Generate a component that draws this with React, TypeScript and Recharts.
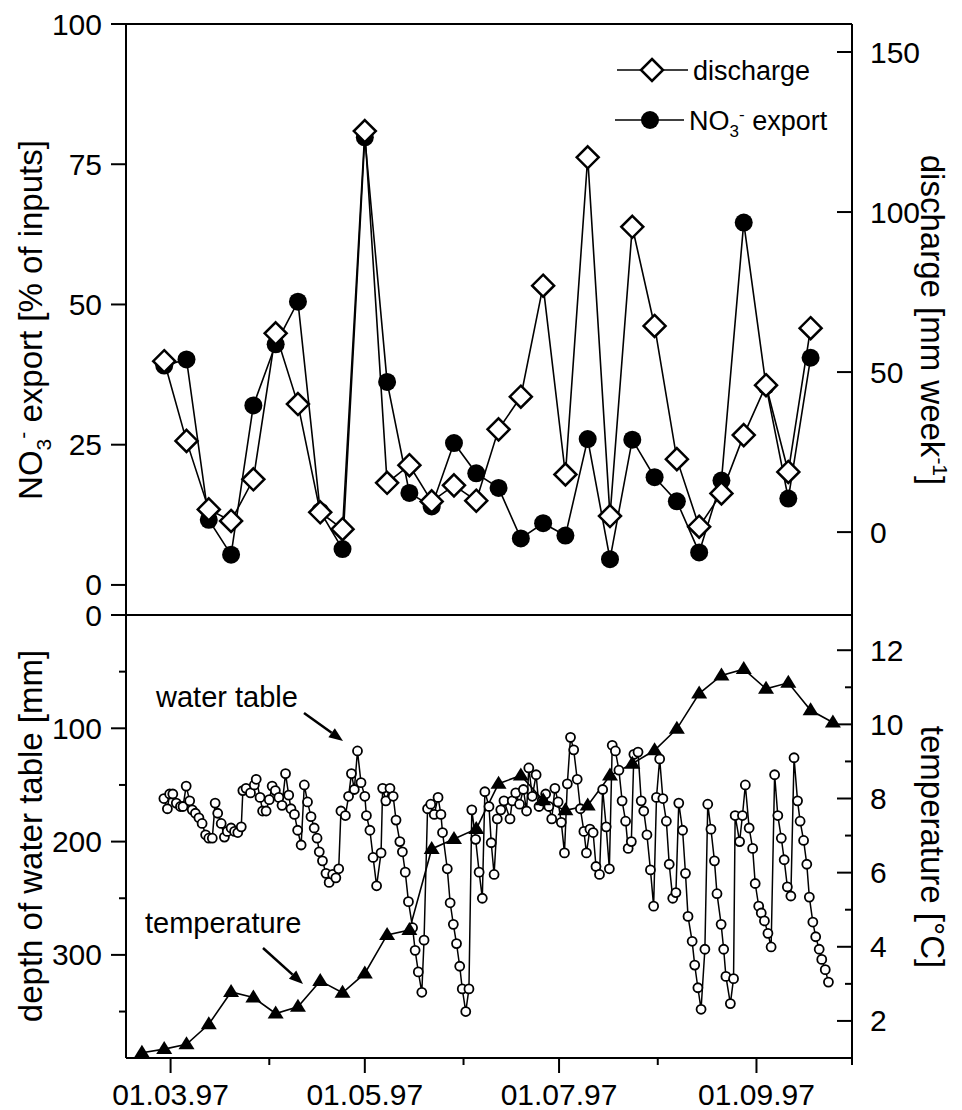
import React from "react";
import { LineChart, Line, XAxis, YAxis } from "recharts";

// dates are day of year 1997 (1 Jan = 0)
const weekDays = [57, 64, 71, 78, 85, 92, 99, 106, 113, 120, 127, 134, 141, 148, 155, 162, 169, 176, 183, 190, 197, 204, 211, 218, 225, 232, 239, 246, 253, 260];
const no3Export = [39.1, 40.2, 11.6, 5.4, 32.0, 42.9, 50.5, 13.1, 6.4, 79.8, 36.2, 16.4, 14.0, 25.3, 19.9, 17.3, 8.3, 11.0, 8.8, 26.0, 4.6, 25.9, 19.2, 14.9, 5.8, 18.6, 64.6, 35.5, 15.4, 40.5];
const discharge = [53.4, 28.5, 7.1, 3.5, 16.5, 62.1, 40.0, 6.2, 0.9, 125.3, 15.4, 20.9, 9.6, 14.6, 9.8, 32.1, 42.3, 77.0, 18.0, 117.1, 5.0, 95.4, 64.4, 22.8, 1.7, 12.1, 30.3, 45.9, 18.8, 63.7];

const tempDays = [50, 57, 64, 71, 78, 85, 92, 99, 106, 113, 120, 127, 134, 141, 148, 155, 162, 169, 176, 183, 190, 197, 204, 211, 218, 225, 232, 239, 246, 253, 260, 267];
const temperature = [1.14, 1.24, 1.37, 1.91, 2.78, 2.63, 2.2, 2.38, 3.08, 2.76, 3.28, 4.32, 4.45, 6.64, 6.91, 7.18, 8.4, 8.62, 7.95, 7.68, 7.81, 8.62, 8.94, 9.3, 9.88, 10.83, 11.32, 11.49, 10.96, 11.12, 10.38, 10.05];

// [day, depth in mm]
const waterTable: [number, number][] = [
  [56.9, 162], [58.0, 171], [58.7, 158], [59.7, 158], [60.8, 166], [62.1, 169], [62.9, 169], [63.9, 151],
  [65.0, 164], [65.8, 172], [66.8, 175], [67.9, 179], [68.9, 184], [70.0, 194], [71.0, 197], [72.1, 197],
  [73.0, 166], [73.8, 175], [74.9, 184], [75.9, 196], [76.8, 191], [78.0, 188], [79.1, 191], [80.1, 192],
  [81.2, 187], [81.7, 155], [82.7, 153], [84.1, 157], [85.3, 150], [85.9, 145], [87.1, 161], [87.9, 173],
  [89.0, 173], [90.0, 163], [90.9, 151], [91.9, 155], [93.0, 161], [94.0, 168], [95.1, 140], [96.1, 159],
  [96.8, 171], [97.9, 176], [98.9, 190], [100.0, 203], [101.0, 150], [102.0, 165], [103.1, 178], [104.1, 188],
  [105.0, 197], [105.7, 209], [106.7, 217], [107.8, 228], [108.8, 236], [109.9, 229], [110.9, 232], [111.8, 224],
  [112.5, 173], [113.9, 177], [114.9, 160], [115.8, 140], [116.7, 154], [117.7, 120], [118.8, 148], [120.0, 160],
  [120.5, 177], [121.6, 190], [122.6, 214], [123.7, 239], [125.1, 210], [125.6, 153], [126.6, 164], [127.9, 153],
  [128.9, 160], [129.8, 181], [131.0, 200], [131.8, 209], [132.7, 227], [133.7, 253], [135.0, 276], [135.8, 296],
  [136.8, 315], [137.9, 333], [138.6, 287], [139.7, 171], [140.7, 167], [141.8, 176], [143.0, 161], [143.9, 176],
  [144.4, 192], [145.9, 224], [146.8, 254], [147.8, 273], [148.8, 290], [149.8, 310], [150.6, 330], [151.7, 350],
  [152.7, 330], [153.6, 172], [154.8, 198], [155.9, 227], [156.9, 250], [157.7, 156], [159.0, 169], [159.7, 201],
  [160.6, 229], [161.6, 180], [162.7, 172], [163.7, 164], [165.6, 180], [166.3, 164], [167.4, 157], [168.6, 167],
  [169.8, 154], [170.8, 173], [171.5, 135], [172.6, 160], [173.8, 141], [174.7, 169], [175.7, 164], [176.8, 158],
  [177.8, 169], [178.7, 180], [179.7, 153], [180.7, 165], [181.7, 183], [182.7, 210], [183.6, 149], [184.6, 108],
  [185.6, 119], [186.7, 145], [187.7, 171], [188.8, 191], [189.6, 210], [190.7, 189], [191.7, 192], [192.6, 222],
  [193.7, 229], [194.7, 154], [195.8, 187], [196.8, 224], [197.7, 115], [198.7, 120], [199.8, 137], [200.8, 164],
  [201.9, 182], [202.7, 206], [203.7, 200], [204.5, 123], [205.8, 121], [206.8, 164], [207.6, 173], [208.6, 194],
  [209.7, 225], [210.7, 257], [211.6, 161], [212.6, 127], [213.6, 162], [214.7, 182], [215.6, 220], [216.7, 250],
  [217.7, 245], [218.6, 166], [219.8, 190], [220.7, 228], [221.5, 266], [222.8, 288], [223.6, 309], [224.6, 329],
  [225.6, 348], [226.8, 295], [227.7, 167], [228.7, 189], [229.8, 217], [230.6, 246], [231.9, 273], [232.7, 295],
  [233.4, 319], [234.8, 343], [235.8, 321], [236.3, 177], [237.7, 200], [238.6, 177], [239.5, 150], [240.7, 188],
  [241.8, 206], [242.6, 237], [243.7, 257], [244.5, 263], [245.5, 270], [246.6, 281], [247.6, 293], [248.7, 141],
  [249.7, 177], [250.8, 197], [251.7, 216], [252.7, 240], [253.8, 248], [254.8, 126], [255.9, 164], [256.7, 182],
  [257.8, 199], [258.8, 220], [259.6, 249], [260.7, 271], [261.6, 284], [262.7, 295], [263.5, 304], [264.6, 313],
  [265.6, 324],
];

const dateTicks = [59, 90, 120, 151, 181, 212, 243, 273];
const majorDateTicks = [59, 120, 181, 243];
const dateLabels: Record<number, string> = { 59: "01.03.97", 120: "01.05.97", 181: "01.07.97", 243: "01.09.97" };
const no3Ticks = [0, 25, 50, 75, 100];
const dischargeTicks = [0, 50, 100, 150];
const depthTicks = [0, 50, 100, 150, 200, 250, 300, 350];
const tempTicks = [2, 3, 4, 5, 6, 7, 8, 9, 10, 11, 12];

const topData = weekDays.map((day, i) => ({ day, no3: no3Export[i], q: discharge[i] }));
const tempData = tempDays.map((day, i) => ({ day, t: temperature[i] }));
const wtData = waterTable.map(([day, d]) => ({ day, d }));

const FONT = "'Liberation Sans', Arial, Helvetica, sans-serif";
const INK = "#000";

const XTick = (props: any) => {
  const { x, y, payload, showLabel } = props;
  const label = dateLabels[payload.value];
  const len = label ? 15 : 7;
  return (
    <g>
      <line x1={x} y1={y} x2={x} y2={y + len} stroke={INK} strokeWidth={2} />
      {showLabel && label ? (
        <text x={x} y={y + 47} textAnchor="middle" fontSize={30} fontFamily={FONT} fill={INK}>
          {label}
        </text>
      ) : null}
    </g>
  );
};

// left ticks point outward, right ticks point inward: both go to the left of the axis line
const YTick = (props: any) => {
  const { x, y, payload, step, side } = props;
  const v = payload.value;
  const major = v % step === 0;
  const len = major ? 15 : 7;
  return (
    <g>
      <line x1={x} y1={y} x2={x - len} y2={y} stroke={INK} strokeWidth={2} />
      {major ? (
        <text
          x={side === "left" ? x - 24 : x + 18}
          y={y + 10.5}
          textAnchor={side === "left" ? "end" : "start"}
          fontSize={30}
          fontFamily={FONT}
          fill={INK}
        >
          {v}
        </text>
      ) : null}
    </g>
  );
};

const circleDot = (p: any) => <circle key={`c${p.index}`} cx={p.cx} cy={p.cy} r={9} fill={INK} />;
const diamondDot = (p: any) => (
  <path
    key={`d${p.index}`}
    d={`M${p.cx},${p.cy - 11}L${p.cx + 11},${p.cy}L${p.cx},${p.cy + 11}L${p.cx - 11},${p.cy}Z`}
    fill="#fff"
    stroke={INK}
    strokeWidth={2.5}
  />
);
const openDot = (p: any) => <circle key={`o${p.index}`} cx={p.cx} cy={p.cy} r={4.5} fill="#fff" stroke={INK} strokeWidth={1.8} />;
const triangleDot = (p: any) => (
  <path key={`t${p.index}`} d={`M${p.cx},${p.cy - 8}L${p.cx + 8},${p.cy + 5}L${p.cx - 8},${p.cy + 5}Z`} fill={INK} />
);

const axisLine = { stroke: INK, strokeWidth: 2 };

const Arrow = ({ x1, y1, x2, y2 }: { x1: number; y1: number; x2: number; y2: number }) => {
  const len = Math.hypot(x2 - x1, y2 - y1);
  const ux = (x2 - x1) / len;
  const uy = (y2 - y1) / len;
  const bx = x2 - 14 * ux;
  const by = y2 - 14 * uy;
  return (
    <g>
      <line x1={x1} y1={y1} x2={bx} y2={by} stroke={INK} strokeWidth={2.5} />
      <path d={`M${x2},${y2}L${bx - 5.5 * uy},${by + 5.5 * ux}L${bx + 5.5 * uy},${by - 5.5 * ux}Z`} fill={INK} />
    </g>
  );
};

export default function App() {
  return (
    <div style={{ position: "absolute", left: 0, top: 0, width: 962, height: 1110, background: "#fff" }}>
      <div style={{ position: "absolute", left: 0, top: 0 }}>
        <LineChart width={962} height={640} margin={{ top: 14, right: 0, bottom: 15, left: 0 }}>
          <XAxis
            xAxisId="b"
            type="number"
            dataKey="day"
            domain={[45, 273]}
            ticks={majorDateTicks}
            height={10}
            axisLine={axisLine}
            tick={false}
            tickLine={false}
          />
          <XAxis
            xAxisId="t"
            orientation="top"
            type="number"
            dataKey="day"
            domain={[45, 273]}
            ticks={majorDateTicks}
            interval={0}
            height={10}
            axisLine={axisLine}
            tickLine={false}
            tickSize={0}
            tickMargin={0}
            tick={<XTick showLabel={false} />}
          />
          <YAxis
            yAxisId="l"
            type="number"
            domain={[-5.36, 100]}
            ticks={no3Ticks}
            interval={0}
            width={126}
            axisLine={axisLine}
            tickLine={false}
            tickSize={0}
            tickMargin={0}
            tick={<YTick step={25} side="left" />}
          />
          <YAxis
            yAxisId="r"
            orientation="right"
            type="number"
            domain={[-25.9, 158.75]}
            ticks={dischargeTicks}
            interval={0}
            width={110}
            axisLine={axisLine}
            tickLine={false}
            tickSize={0}
            tickMargin={0}
            tick={<YTick step={50} side="right" />}
          />
          <Line xAxisId="b" yAxisId="l" data={topData} dataKey="no3" stroke={INK} strokeWidth={1.6} dot={circleDot} activeDot={false} isAnimationActive={false} />
          <Line xAxisId="b" yAxisId="r" data={topData} dataKey="q" stroke={INK} strokeWidth={1.6} dot={diamondDot} activeDot={false} isAnimationActive={false} />
        </LineChart>
      </div>
      <div style={{ position: "absolute", left: 0, top: 590 }}>
        <LineChart width={962} height={520} margin={{ top: 15, right: 0, bottom: 2, left: 0 }}>
          <XAxis
            xAxisId="b"
            type="number"
            dataKey="day"
            domain={[45, 273]}
            ticks={dateTicks}
            interval={0}
            height={50}
            axisLine={axisLine}
            tickLine={false}
            tickSize={0}
            tickMargin={0}
            tick={<XTick showLabel />}
          />
          <XAxis
            xAxisId="t"
            orientation="top"
            type="number"
            dataKey="day"
            domain={[45, 273]}
            ticks={dateTicks}
            interval={0}
            height={10}
            axisLine={axisLine}
            tickLine={false}
            tickSize={0}
            tickMargin={0}
            tick={<XTick showLabel={false} />}
          />
          <YAxis
            yAxisId="l"
            type="number"
            reversed
            domain={[0, 391]}
            ticks={depthTicks}
            interval={0}
            width={126}
            axisLine={axisLine}
            tickLine={false}
            tickSize={0}
            tickMargin={0}
            tick={<YTick step={100} side="left" />}
          />
          <YAxis
            yAxisId="r"
            orientation="right"
            type="number"
            domain={[1, 12.95]}
            ticks={tempTicks}
            interval={0}
            width={110}
            axisLine={axisLine}
            tickLine={false}
            tickSize={0}
            tickMargin={0}
            tick={<YTick step={2} side="right" />}
          />
          <Line xAxisId="b" yAxisId="l" data={wtData} dataKey="d" stroke={INK} strokeWidth={1.5} dot={openDot} activeDot={false} isAnimationActive={false} />
          <Line xAxisId="b" yAxisId="r" data={tempData} dataKey="t" stroke={INK} strokeWidth={1.6} dot={triangleDot} activeDot={false} isAnimationActive={false} />
        </LineChart>
      </div>
      <svg width={962} height={1110} style={{ position: "absolute", left: 0, top: 0, pointerEvents: "none" }} fontFamily={FONT} fill={INK}>
        {/* legend */}
        <line x1={617} y1={70} x2={688} y2={70} stroke={INK} strokeWidth={1.6} />
        <path d="M652,59L663,70L652,81L641,70Z" fill="#fff" stroke={INK} strokeWidth={2.5} />
        <text x={693} y={79.5} fontSize={27}>discharge</text>
        <line x1={615} y1={120} x2={684} y2={120} stroke={INK} strokeWidth={1.6} />
        <circle cx={650} cy={120} r={9} fill={INK} />
        <text x={689} y={129.5} fontSize={27}>
          NO<tspan dy={7} fontSize={17}>3</tspan>
          <tspan dy={-17} fontSize={17}>-</tspan>
          <tspan dy={10}> export</tspan>
        </text>

        {/* axis titles */}
        <text transform="translate(42,320) rotate(-90)" textAnchor="middle" fontSize={33}>
          NO<tspan dy={9} fontSize={21}>3</tspan>
          <tspan dy={-21} fontSize={21}>-</tspan>
          <tspan dy={12}> export [% of inputs]</tspan>
        </text>
        <text transform="translate(921,320) rotate(90)" textAnchor="middle" fontSize={33}>
          discharge [mm week<tspan dy={-12} fontSize={21}>-1</tspan>
          <tspan dy={12}>]</tspan>
        </text>
        <text transform="translate(42,836) rotate(-90)" textAnchor="middle" fontSize={33}>
          depth of water table [mm]
        </text>
        <text transform="translate(921,847) rotate(90)" textAnchor="middle" fontSize={33}>
          temperature [°C]
        </text>

        {/* annotations */}
        <text x={156} y={707} fontSize={29}>water table</text>
        <Arrow x1={304} y1={713} x2={343} y2={741} />
        <text x={145} y={933} fontSize={29}>temperature</text>
        <Arrow x1={263} y1={948} x2={303} y2={984} />
      </svg>
    </div>
  );
}
